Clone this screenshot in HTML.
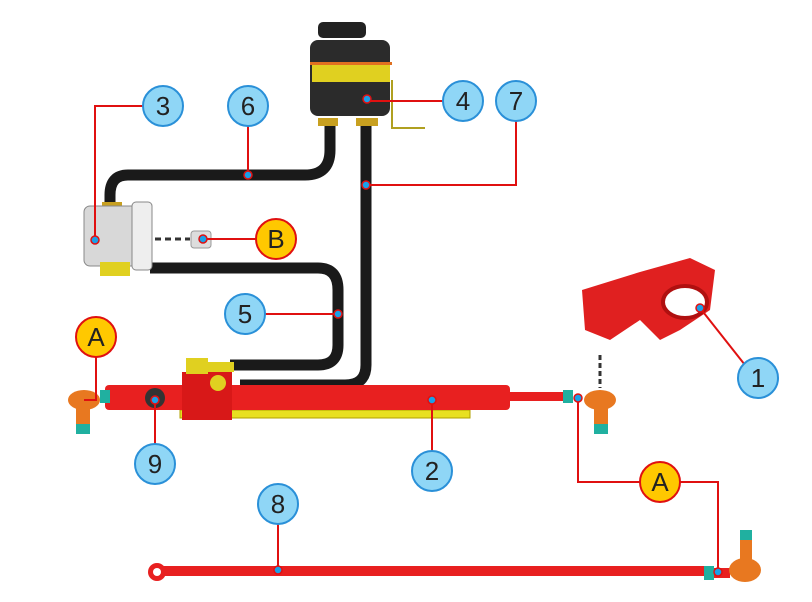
<!DOCTYPE html>
<html><head><style>body{margin:0;background:#fff}svg{display:block}text{font-family:"Liberation Sans",sans-serif}</style></head>
<body>
<svg width="812" height="602" viewBox="0 0 812 602">
<!-- reservoir -->
<rect x="318" y="22" width="48" height="16" rx="5" fill="#222"/>
<rect x="310" y="40" width="80" height="76" rx="8" fill="#2b2b2b"/>
<rect x="310" y="62" width="82" height="3" fill="#e07020"/>
<rect x="312" y="65" width="78" height="17" fill="#e0d020"/>
<path d="M392 80 V128 H425" stroke="#b0a020" stroke-width="2" fill="none"/>
<!-- hoses -->
<g fill="none" stroke="#1a1a1a" stroke-width="11">
<path d="M330 120 V150 Q330 175 305 175 H128 Q110 175 110 195 V210"/>
<path d="M366 120 V365 Q366 385 345 385 H240"/>
<path d="M150 268 H318 Q338 268 338 290 V345 Q338 365 318 365 H230"/>
</g>
<rect x="318" y="118" width="20" height="8" fill="#c8a020"/>
<rect x="356" y="118" width="22" height="8" fill="#c8a020"/>
<rect x="102" y="202" width="20" height="7" fill="#c8a020"/>
<!-- pump -->
<rect x="84" y="206" width="68" height="60" rx="6" fill="#d8d8d8" stroke="#888"/>
<rect x="132" y="202" width="20" height="68" rx="4" fill="#eee" stroke="#888"/>
<rect x="100" y="262" width="30" height="14" fill="#e0d020"/>
<path d="M155 239 H190" stroke="#333" stroke-width="3" stroke-dasharray="6 4"/>
<rect x="191" y="231" width="20" height="17" rx="3" fill="#ddd" stroke="#999"/>
<!-- rack -->
<rect x="180" y="410" width="290" height="8" fill="#e8e020" stroke="#b0a000"/>
<rect x="105" y="385" width="405" height="25" rx="4" fill="#e82020"/>
<rect x="182" y="372" width="50" height="48" fill="#d81818"/>
<rect x="186" y="358" width="22" height="16" fill="#e0d020"/>
<rect x="208" y="362" width="26" height="10" fill="#e0d020"/>
<circle cx="218" cy="383" r="8" fill="#e0d020"/>
<circle cx="155" cy="398" r="10" fill="#333"/>
<rect x="510" y="392" width="60" height="9" fill="#e82020"/>
<rect x="563" y="390" width="10" height="13" fill="#20b0a0"/>
<rect x="100" y="390" width="10" height="13" fill="#20b0a0"/>
<ellipse cx="84" cy="400" rx="16" ry="10" fill="#e87820"/>
<rect x="76" y="405" width="14" height="20" fill="#e87820"/>
<rect x="76" y="424" width="14" height="10" fill="#20b0a0"/>
<ellipse cx="600" cy="400" rx="16" ry="10" fill="#e87820"/>
<rect x="594" y="405" width="14" height="20" fill="#e87820"/>
<rect x="594" y="424" width="14" height="10" fill="#20b0a0"/>
<path d="M600 355 V388" stroke="#333" stroke-width="3" stroke-dasharray="5 3"/>
<!-- bracket 1 -->
<path d="M582 290 L640 272 L690 258 L715 270 L710 310 L680 330 L660 340 L640 320 L610 340 L585 330 Z" fill="#e02020"/>
<ellipse cx="685" cy="302" rx="22" ry="16" fill="#fff" stroke="#b01010" stroke-width="4"/>
<!-- tie rod 8 -->
<rect x="158" y="566" width="550" height="10" rx="3" fill="#e82020"/>
<circle cx="157" cy="572" r="9" fill="#e82020"/><circle cx="157" cy="572" r="4" fill="#fff"/>
<rect x="704" y="566" width="10" height="14" fill="#20b0a0"/>
<rect x="714" y="568" width="16" height="10" fill="#e82020"/>
<ellipse cx="745" cy="570" rx="16" ry="12" fill="#e87820"/>
<rect x="740" y="538" width="12" height="22" fill="#e87820"/>
<rect x="740" y="530" width="12" height="10" fill="#20b0a0"/>
<!-- leaders -->
<g fill="none" stroke="#e01010" stroke-width="2">
<path d="M143 106 H95 V240"/><path d="M248 126 V175"/><path d="M443 101 H367"/>
<path d="M516 121 V185 H366"/><path d="M256 239 H203"/><path d="M265 314 H338"/>
<path d="M96 357 V400 H84"/><path d="M745 365 L700 308"/><path d="M155 444 V400"/>
<path d="M432 451 V400"/><path d="M640 482 H578 V398"/><path d="M680 482 H718 V572"/>
<path d="M278 524 V570"/>
</g>
<g fill="#1aa0e8" stroke="#e01010" stroke-width="1.5">
<circle cx="95" cy="240" r="4"/><circle cx="248" cy="175" r="4"/><circle cx="367" cy="99" r="4"/>
<circle cx="366" cy="185" r="4"/><circle cx="203" cy="239" r="4"/><circle cx="338" cy="314" r="4"/>
<circle cx="700" cy="308" r="4"/><circle cx="155" cy="400" r="4"/><circle cx="432" cy="400" r="4"/>
<circle cx="578" cy="398" r="4"/><circle cx="718" cy="572" r="4"/><circle cx="278" cy="570" r="4"/>
</g>
<!-- callouts -->
<g fill="#8fd6f6" stroke="#2a90d8" stroke-width="2">
<circle cx="163" cy="106" r="20"/><circle cx="248" cy="106" r="20"/><circle cx="463" cy="101" r="20"/>
<circle cx="516" cy="101" r="20"/><circle cx="245" cy="314" r="20"/><circle cx="758" cy="378" r="20"/>
<circle cx="155" cy="464" r="20"/><circle cx="432" cy="471" r="20"/><circle cx="278" cy="504" r="20"/>
</g>
<g fill="#ffc800" stroke="#e01010" stroke-width="2">
<circle cx="276" cy="239" r="20"/><circle cx="96" cy="337" r="20"/><circle cx="660" cy="482" r="20"/>
</g>
<g font-size="26" fill="#222" text-anchor="middle">
<text x="163" y="115">3</text><text x="248" y="115">6</text><text x="463" y="110">4</text>
<text x="516" y="110">7</text><text x="245" y="323">5</text><text x="758" y="387">1</text>
<text x="155" y="473">9</text><text x="432" y="480">2</text><text x="278" y="513">8</text>
<text x="276" y="248">B</text><text x="96" y="346">A</text><text x="660" y="491">A</text>
</g>
</svg>
</body></html>
